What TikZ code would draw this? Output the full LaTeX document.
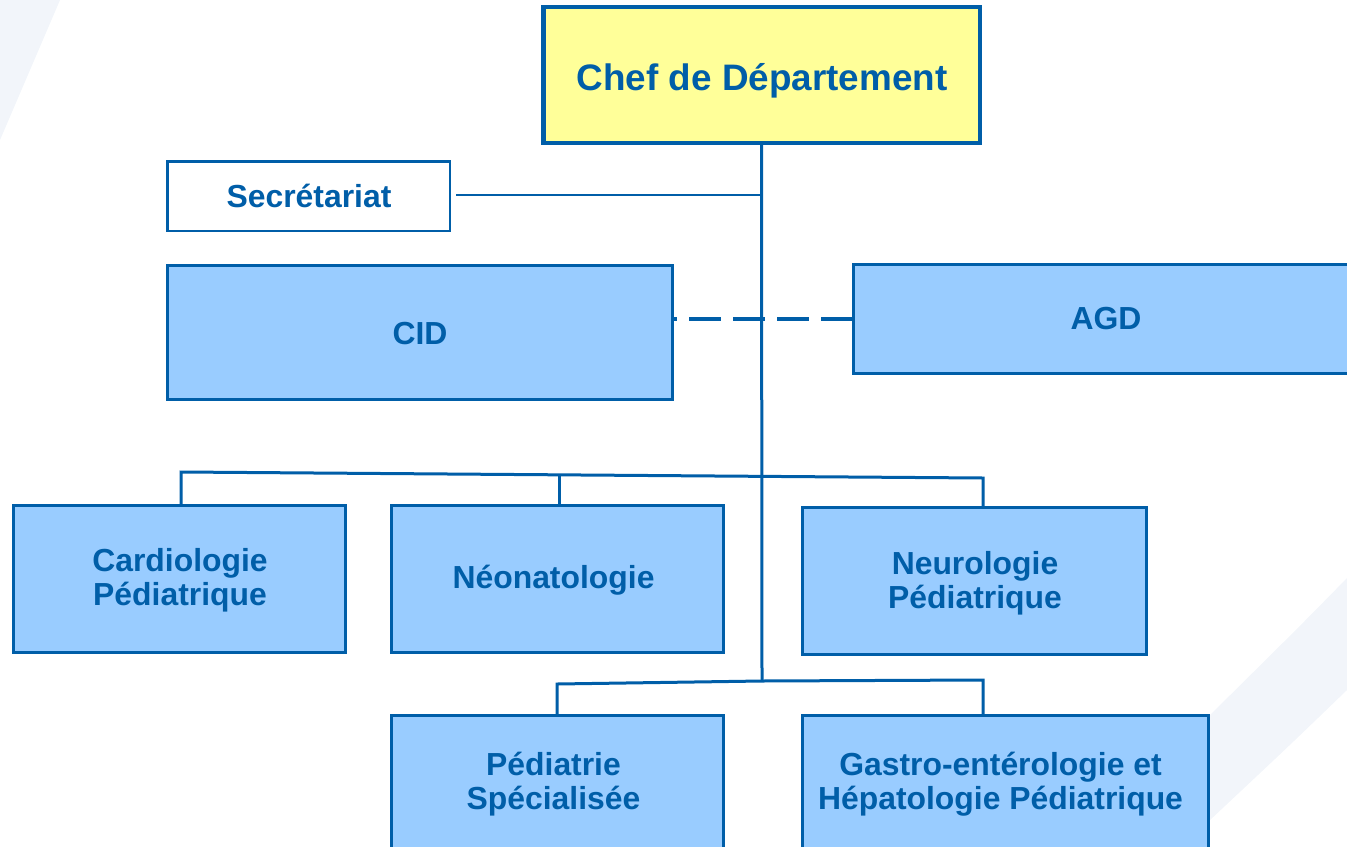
\documentclass[tikz,border=0pt]{standalone}
\usepackage{fontspec}
\setmainfont{Liberation Sans}
\definecolor{orgblue}{RGB}{0,94,168}
\definecolor{boxfill}{RGB}{153,204,255}
\definecolor{chefyellow}{RGB}{255,255,153}
\definecolor{bgtint}{RGB}{242,245,250}
\tikzset{
  unit/.style={draw=orgblue, line width=3bp, fill=boxfill, inner sep=0pt},
  chefbox/.style={unit, fill=chefyellow, line width=4.5bp},
  secbox/.style={unit, fill=white, line width=2.5bp},
  lbl/.style={text=orgblue, font=\fontsize{32}{34}\selectfont\bfseries, align=center, inner sep=0pt},
  cheflbl/.style={lbl, font=\fontsize{37}{40}\selectfont\bfseries},
  link/.style={draw=orgblue, line width=3bp},
  thinlink/.style={draw=orgblue, line width=2bp},
  dashlink/.style={draw=orgblue, line width=4bp, dash pattern=on 32bp off 12bp, dash phase=29bp}
}
\begin{document}
\begin{tikzpicture}[x=1bp,y=-1bp]
\useasboundingbox (0,0) rectangle (1347,846);
\clip (0,0) rectangle (1347,846);
% background tints
\fill[bgtint] (0,0) -- (60,0) -- (0,140) -- cycle;
\fill[bgtint] (1347,578) .. controls (1300,626) .. (1210,715) -- (1120,805) -- (1120,905)
  -- (1210,820) .. controls (1290,745) .. (1347,690) -- cycle;
% boxes
\node[chefbox, minimum width=436.5bp, minimum height=135.5bp] (chef) at (761.5,75) {};
\node[secbox, minimum width=282.5bp, minimum height=69.5bp] (secr) at (308.5,196) {};
\node[unit, minimum width=505bp, minimum height=134bp] (cid) at (420,332.5) {};
\node[unit, minimum width=505bp, minimum height=109bp] (agd) at (1106,319) {};
\node[unit, minimum width=332bp, minimum height=147bp] (cardio) at (179.5,579) {};
\node[unit, minimum width=332bp, minimum height=147bp] (neo) at (557.5,579) {};
\node[unit, minimum width=344bp, minimum height=147bp] (neuro) at (974.5,581) {};
\node[unit, minimum width=332bp, minimum height=133bp] (ped) at (557.5,782) {};
\node[unit, minimum width=406bp, minimum height=133bp] (gastro) at (1005.5,782) {};
% labels
\node[cheflbl] (chefT) at (762,81) {Chef de Département};
\node[lbl] (secrT) at (309,196) {Secrétariat};
\node[lbl] (cidT) at (420,333.5) {CID};
\node[lbl] (agdT) at (1106,319) {AGD};
\node[lbl] (cardioT) at (180,580.5) {Cardiologie\\Pédiatrique};
\node[lbl] (neoT) at (553.5,580) {Néonatologie};
\node[lbl] (neuroT) at (975,583) {Neurologie\\Pédiatrique};
\node[lbl] (pedT) at (553.5,784) {Pédiatrie\\Spécialisée};
\node[lbl] (gastroT) at (1000.5,784) {Gastro-entérologie et\\Hépatologie Pédiatrique};
% connector points
\coordinate (tend) at (762,681);
\coordinate (b1) at (181,472);
\coordinate (b2) at (559,474.8);
\coordinate (b3) at (983,478);
\coordinate (p1) at (557,684);
\coordinate (p2) at (983,680);
\coordinate (sj) at (762,195);
% connectors
\draw[link] (chef.south) -- (tend);
\draw[thinlink] ([xshift=5bp]secr.east |- sj) -- (sj);
\draw[dashlink] (cid.east |- agd.west) -- (agd.west);
\draw[link] (b1 |- cardio.north) -- (b1) -- (b3) -- (b3 |- neuro.north);
\draw[link] (b2) -- (b2 |- neo.north);
\draw[link] (p1 |- ped.north) -- (p1) -- (tend) -- (p2) -- (p2 |- gastro.north);
\end{tikzpicture}
\end{document}
